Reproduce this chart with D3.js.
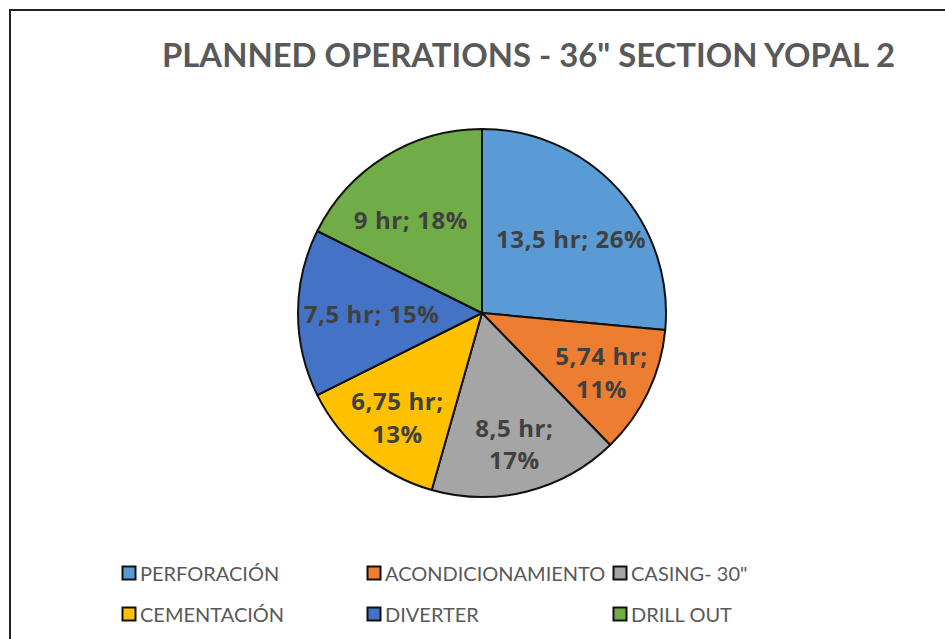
<!DOCTYPE html>
<html>
<head>
<meta charset="utf-8">
<script src="https://cdn.jsdelivr.net/npm/d3@7"></script>
<style>
  body { margin: 0; background: #fff; }
  #chart-container { width: 945px; height: 639px; }
</style>
</head>
<body>
<div id="chart-container"></div>
<script>
const categories = ["PERFORACIÓN", "ACONDICIONAMIENTO", "CASING- 30\"", "CEMENTACIÓN", "DIVERTER", "DRILL OUT"];
const hours = [13.5, 5.74, 8.5, 6.75, 7.5, 9];
const hourLabels = ["13,5", "5,74", "8,5", "6,75", "7,5", "9"];
const pctLabels = ["26%", "11%", "17%", "13%", "15%", "18%"];
const wrapLabel = [false, true, true, true, false, false];
const colors = ["#5B9BD5", "#ED7D31", "#A5A5A5", "#FFC000", "#4472C4", "#70AD47"];
const title = "PLANNED OPERATIONS - 36\" SECTION YOPAL 2";

const width = 945, height = 639;
const cx = 482, cy = 313, radius = 184;

const svg = d3.select("#chart-container")
    .append("svg")
    .attr("width", width)
    .attr("height", height);

// chart frame (only left + top edges visible in the crop)
svg.append("path")
    .attr("d", `M10,${height} L10,10 L${width},10`)
    .attr("fill", "none")
    .attr("stroke", "#222")
    .attr("stroke-width", 2);

svg.append("text")
    .attr("x", 162)
    .attr("y", 67)
    .attr("textLength", 733)
    .attr("lengthAdjust", "spacingAndGlyphs")
    .attr("font-family", "Lato, 'Open Sans', sans-serif")
    .attr("font-weight", "bold")
    .attr("font-size", 32)
    .attr("fill", "#595959")
    .text(title);

const data = categories.map((c, i) => ({ name: c, value: hours[i], i }));

const pie = d3.pie().sort(null).value(d => d.value);
const arc = d3.arc().innerRadius(0).outerRadius(radius);
// long one-line labels sit further in so they stay inside the pie
const wideArc = d3.arc().innerRadius(radius * 0.6).outerRadius(radius * 0.6);
const wrapArc = d3.arc().innerRadius(radius * 0.72).outerRadius(radius * 0.72);

const g = svg.append("g").attr("transform", `translate(${cx},${cy})`);
const arcs = pie(data);

g.selectAll("path.slice")
    .data(arcs)
    .enter()
    .append("path")
    .attr("class", "slice")
    .attr("d", arc)
    .attr("fill", d => colors[d.data.i])
    .attr("stroke", "#111")
    .attr("stroke-width", 2)
    .attr("stroke-linejoin", "round");

// data labels
const labels = g.selectAll("text.lbl")
    .data(arcs)
    .enter()
    .append("text")
    .attr("class", "lbl")
    .attr("text-anchor", "middle")
    .attr("font-family", "'Open Sans', Lato, sans-serif")
    .attr("font-weight", "bold")
    .attr("font-size", 24)
    .attr("letter-spacing", 0.6)
    .attr("fill", "#404040");

const pad = 14;
labels.each(function (d) {
    const i = d.data.i;
    const t = d3.select(this);
    if (wrapLabel[i]) {
        t.append("tspan").attr("x", 0).attr("dy", "-0.2em").text(`${hourLabels[i]} hr;`);
        t.append("tspan").attr("x", 0).attr("dy", "1.35em").text(pctLabels[i]);
    } else {
        t.append("tspan").attr("x", 0).attr("dy", "0.4em").text(`${hourLabels[i]} hr; ${pctLabels[i]}`);
    }
    let [x, y] = (wrapLabel[i] ? wrapArc : wideArc).centroid(d);
    // keep one-line labels clear of the 12 o'clock slice edge
    const w = this.getBBox().width;
    if (d.startAngle === 0) x = Math.max(x, w / 2 + pad);
    if (Math.abs(d.endAngle - 2 * Math.PI) < 1e-6) x = Math.min(x, -w / 2 - pad);
    t.attr("transform", `translate(${x},${y})`);
});

// legend: 3 columns x 2 rows
const colX = [122, 367, 613];
const rowY = [573, 614];
const legend = svg.selectAll("g.legend")
    .data(data)
    .enter()
    .append("g")
    .attr("class", "legend")
    .attr("transform", d => `translate(${colX[d.i % 3]},${rowY[Math.floor(d.i / 3)]})`);

legend.append("rect")
    .attr("x", 0.5)
    .attr("y", -6.5)
    .attr("width", 13)
    .attr("height", 13)
    .attr("fill", d => colors[d.i])
    .attr("stroke", "#111")
    .attr("stroke-width", 2);

legend.append("text")
    .attr("x", 18)
    .attr("y", 7.5)
    .attr("font-family", "Lato, 'Open Sans', sans-serif")
    .attr("font-size", 20)
    .attr("fill", "#595959")
    .text(d => d.name);
</script>
</body>
</html>
